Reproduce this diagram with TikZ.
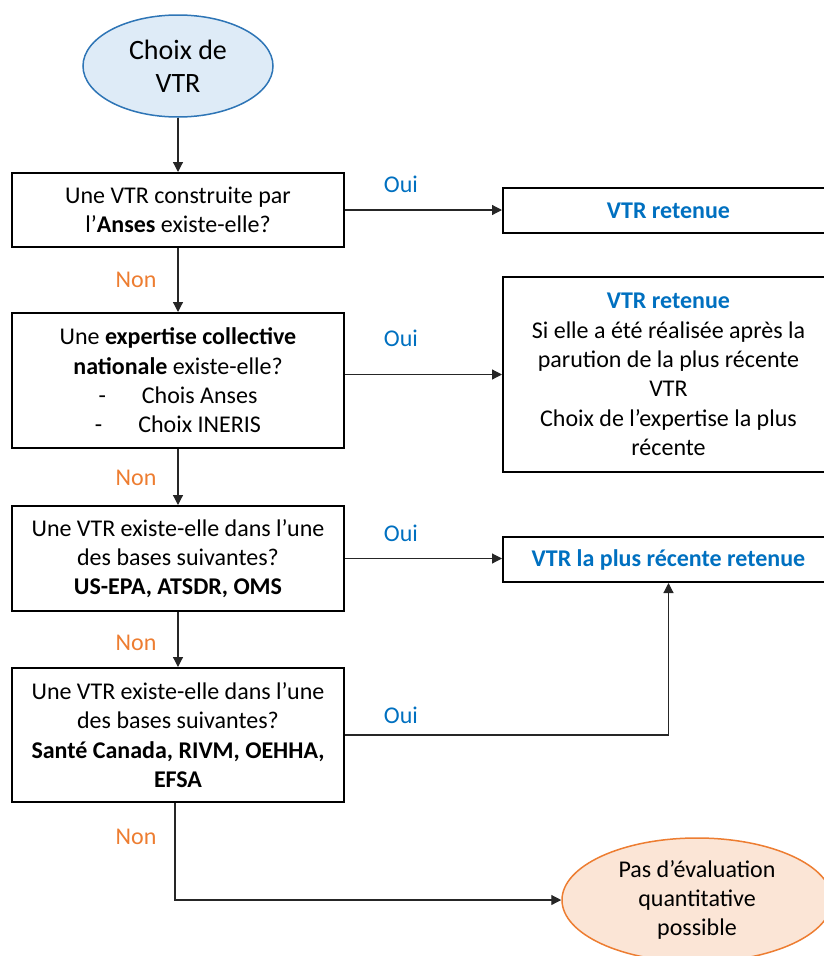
\documentclass[tikz,border=0pt]{standalone}
\usepackage{fontspec}
\setmainfont{Carlito}
\usetikzlibrary{arrows.meta,shapes.geometric}

\definecolor{ouiblue}{HTML}{0070C0}
\definecolor{nonorange}{HTML}{ED7D31}
\definecolor{startfill}{HTML}{DEEBF7}
\definecolor{startline}{HTML}{2E75B6}
\definecolor{endfill}{HTML}{FBE5D6}

\begin{document}
\begin{tikzpicture}[x=1pt,y=-1pt,
		every node/.style={font=\fontsize{24}{29.3}\selectfont},
		question/.style={draw,line width=2pt,minimum width=332pt,align=center,inner sep=3pt},
		result/.style={question,minimum width=331pt,text=ouiblue,font=\fontsize{24}{29.3}\selectfont\bfseries},
		terminal/.style={ellipse,line width=1.5pt,align=center,inner sep=0pt},
		oui/.style={text=ouiblue},
		non/.style={text=nonorange},
		flow/.style={line width=1.2pt,black!85,-{Triangle[length=10pt,width=10pt]}}]
		\def\colx{178}
		\def\resx{668.5}
		
		\clip (0,0) rectangle (824,956);
		
		\node[terminal,draw=startline,fill=startfill,minimum width=190pt,minimum height=102pt,font=\fontsize{28}{33}\selectfont] (start) at (\colx,66) {Choix de\\VTR};
		
		\node[question,minimum height=74pt] (anses) at (\colx,210) {Une VTR construite par\\l’\textbf{Anses} existe-elle?};
		\node[question,minimum height=135pt] (expertise) at (\colx,380.5) {Une \textbf{expertise collective}\\\textbf{nationale} existe-elle?\\-\hspace{36pt}Chois Anses\\-\hspace{36pt}Choix INERIS};
		\node[question,minimum height=105pt] (bases) at (\colx,558.5) {Une VTR existe-elle dans l’une\\des bases suivantes?\\\textbf{US-EPA, ATSDR, OMS}};
		\node[question,minimum height=134pt] (autres) at (\colx,735) {Une VTR existe-elle dans l’une\\des bases suivantes?\\\textbf{Santé Canada, RIVM, OEHHA,}\\\textbf{EFSA}};
		
		\node[result,minimum height=45pt] (retenue) at (\resx,210.5) {VTR retenue};
		\node[result,minimum height=195pt] (expretenue) at (\resx,374.5) {VTR retenue\\\mdseries\color{black}Si elle a été réalisée après la\\\mdseries\color{black}parution de la plus récente\\\mdseries\color{black}VTR\\\mdseries\color{black}Choix de l’expertise la plus\\\mdseries\color{black}récente};
		\node[result,minimum height=45pt] (recente) at (\resx,559.5) {VTR la plus récente retenue};
		
		\node[terminal,draw=nonorange,fill=endfill,minimum width=270pt,minimum height=124pt] (aucune) at (697,900) {Pas d’évaluation\\quantitative\\possible};
		
		\draw[flow] (start) -- (anses);
		\draw[flow] (anses) -- (expertise);
		\draw[flow] (expertise) -- (bases);
		\draw[flow] (bases) -- (autres);
		\draw[flow] ([xshift=-3pt]autres.south) |- (aucune.west);
		
		\draw[flow] (anses.east) -- (anses.east -| retenue.west);
		\draw[flow] (expretenue.west -| expertise.east) -- (expretenue.west);
		\draw[flow] (bases.east) -- (bases.east -| recente.west);
		\draw[flow] (autres.east) -| (recente.south);
		
		\node[oui] (oui1) at (401,184) {Oui};
		\node[oui] (oui2) at (401,338) {Oui};
		\node[oui] (oui3) at (401,533) {Oui};
		\node[oui] (oui4) at (401,715) {Oui};
		\node[non] (non1) at (136,280) {Non};
		\node[non] (non2) at (136,478) {Non};
		\node[non] (non3) at (136,643) {Non};
		\node[non] (non4) at (136,837) {Non};
	\end{tikzpicture}
\end{document}
